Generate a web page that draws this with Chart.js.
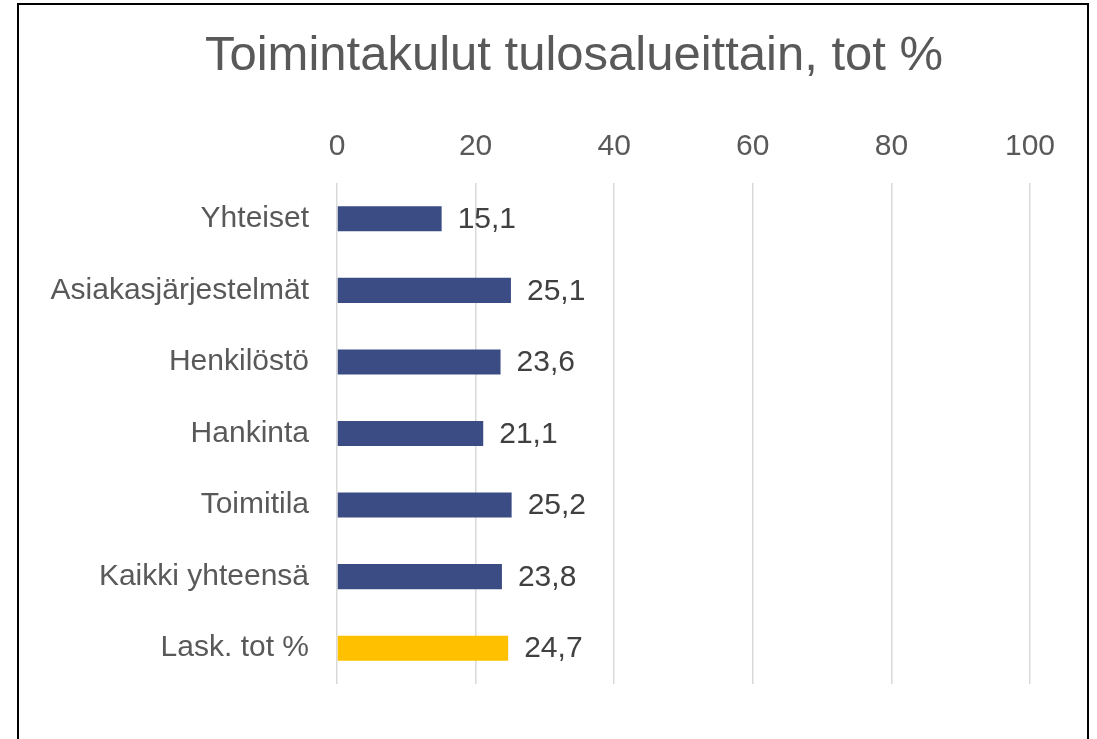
<!DOCTYPE html>
<html>
<head>
<meta charset="utf-8">
<script src="https://cdn.jsdelivr.net/npm/chart.js@4.4.0/dist/chart.umd.min.js"></script>
<style>
  html, body { margin: 0; padding: 0; background: #fff; overflow: hidden; }
  #wrap { position: relative; width: 1097px; height: 739px; }
  #frame { position: absolute; left: 17px; top: 3px; width: 1072px; height: 800px;
           box-sizing: border-box; border: 2px solid #000; pointer-events: none; }
</style>
</head>
<body>
<div id="wrap">
  <canvas id="costChart" width="1097" height="739"></canvas>
  <div id="frame"></div>
</div>
<script>
var chartTitle = 'Toimintakulut tulosalueittain, tot %';
var categories = ['Yhteiset', 'Asiakasjärjestelmät', 'Henkilöstö', 'Hankinta', 'Toimitila', 'Kaikki yhteensä', 'Lask. tot %'];
var values = [15.1, 25.1, 23.6, 21.1, 25.2, 23.8, 24.7];
var barColors = ['#3b4c85', '#3b4c85', '#3b4c85', '#3b4c85', '#3b4c85', '#3b4c85', '#ffc000'];
var xTicks = [0, 20, 40, 60, 80, 100];

var fontFamily = '"Liberation Sans", Arial, sans-serif';
Chart.defaults.font.family = fontFamily;

// title drawn by hand so it can sit off-centre like the original
var titlePlugin = {
    id: 'titlePlugin',
    beforeDraw: function(chart) {
        var ctx = chart.ctx;
        ctx.save();
        ctx.font = '49px ' + fontFamily;
        ctx.fillStyle = '#595959';
        ctx.textAlign = 'center';
        ctx.textBaseline = 'middle';
        ctx.fillText(chartTitle, 574, 56);
        ctx.restore();
    }
};

// draws the value next to each bar end
var valueLabels = {
    id: 'valueLabels',
    afterDatasetsDraw: function(chart) {
        var ctx = chart.ctx;
        var meta = chart.getDatasetMeta(0);
        ctx.save();
        ctx.font = '30px ' + fontFamily;
        ctx.fillStyle = '#404040';
        ctx.textAlign = 'left';
        ctx.textBaseline = 'middle';
        meta.data.forEach(function(bar, i) {
            ctx.fillText(values[i].toFixed(1).replace('.', ','), bar.x + 16, bar.y + 1);
        });
        ctx.restore();
    }
};

var ctx = document.getElementById('costChart').getContext('2d');
var costChart = new Chart(ctx, {
    type: 'bar',
    data: {
        labels: categories,
        datasets: [{
            data: values,
            backgroundColor: barColors,
            borderWidth: 0,
            categoryPercentage: 1,
            barPercentage: 0.35
        }]
    },
    options: {
        indexAxis: 'y',
        responsive: false,
        animation: false,
        layout: {
            padding: { left: 20, right: 67, top: 111, bottom: 55 }
        },
        plugins: {
            legend: { display: false },
            tooltip: { enabled: false },
            title: { display: false }
        },
        scales: {
            x: {
                position: 'top',
                min: 0,
                max: 100,
                afterBuildTicks: function(scale) {
                    scale.ticks = xTicks.map(function(v) { return { value: v }; });
                },
                ticks: {
                    color: '#595959',
                    font: { size: 30 },
                    padding: 18
                },
                grid: {
                    color: '#d9d9d9',
                    lineWidth: 1.5,
                    drawTicks: false
                },
                border: { display: false }
            },
            y: {
                afterFit: function(scale) { scale.width = 317; },
                ticks: {
                    color: '#595959',
                    font: { size: 30 },
                    padding: 28
                },
                grid: { display: false, drawTicks: false },
                border: { display: false }
            }
        }
    },
    plugins: [titlePlugin, valueLabels]
});
</script>
</body>
</html>
